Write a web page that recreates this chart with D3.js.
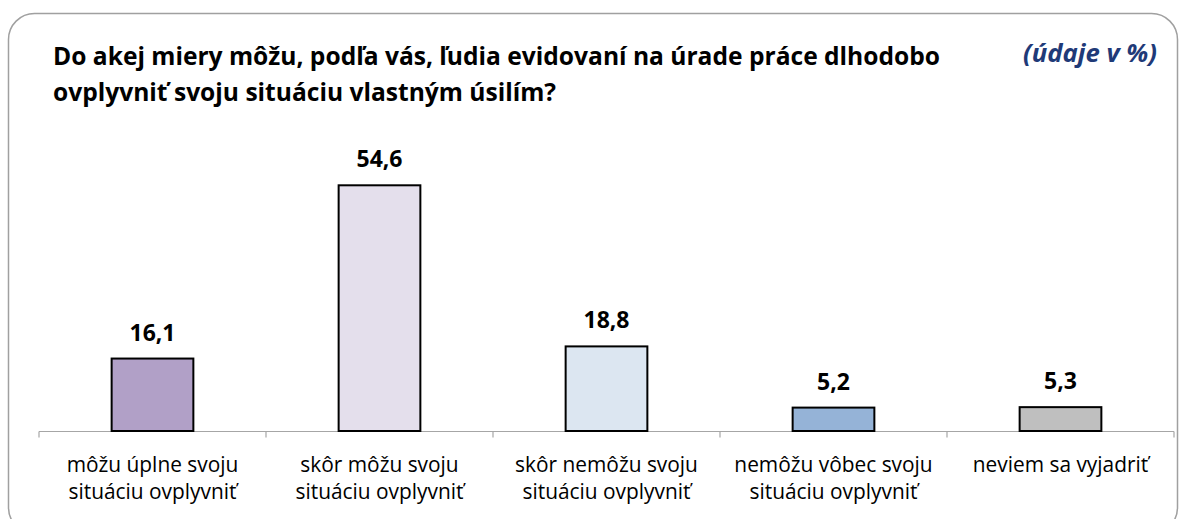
<!DOCTYPE html>
<html><head><meta charset="utf-8">
<script src="https://cdn.jsdelivr.net/npm/d3@7"></script>
<style>body{margin:0;background:#fff}</style>
</head><body>
<script>
const categories = [
  ["môžu úplne svoju", "situáciu ovplyvniť"],
  ["skôr môžu svoju", "situáciu ovplyvniť"],
  ["skôr nemôžu svoju", "situáciu ovplyvniť"],
  ["nemôžu vôbec svoju", "situáciu ovplyvniť"],
  ["neviem sa vyjadriť"]
];
const values = [16.1, 54.6, 18.8, 5.2, 5.3];
const colors = ["#b1a0c7", "#e4dfec", "#dce6f1", "#95b3d7", "#bfbfbf"];
const titleLines = ["Do akej miery môžu, podľa vás, ľudia evidovaní na úrade práce dlhodobo", "ovplyvniť svoju situáciu vlastným úsilím?"];
const unitNote = "(údaje v %)";

const W = 1186, H = 519;
const svg = d3.select("body").append("svg").attr("width", W).attr("height", H);
const font = "'Open Sans', 'Noto Sans', sans-serif";

// fit font size of a text so it spans a target width
function fit(sel, target) {
  const s = +sel.attr("font-size");
  const w = sel.node().getComputedTextLength();
  sel.attr("font-size", (s * target / w).toFixed(2));
}

svg.append("rect").attr("x", 8.5).attr("y", 13.5).attr("width", 1169).attr("height", 520)
  .attr("rx", 26).attr("fill", "#fff").attr("stroke", "#a0a0a0").attr("stroke-width", 1.5);

const t1 = svg.append("text").attr("x", 53).attr("y", 65).attr("font-family", font).attr("font-weight", "bold")
  .attr("font-size", 24).text(titleLines[0]);
fit(t1, 887);
svg.append("text").attr("x", 53).attr("y", 101).attr("font-family", font).attr("font-weight", "bold")
  .attr("font-size", t1.attr("font-size")).text(titleLines[1]);

const un = svg.append("text").attr("x", 1157).attr("y", 62).attr("text-anchor", "end")
  .attr("font-family", font).attr("font-weight", "bold").attr("font-style", "italic")
  .attr("font-size", 22).attr("fill", "#1f3a78").text(unitNote);
fit(un, 134);

const x = d3.scaleBand().domain(d3.range(values.length)).range([39, 1174]).paddingInner(0.64).paddingOuter(0.32);
const y = d3.scaleLinear().domain([0, 60]).range([431, 431 - 60 * 4.5]);

const axisY = 431.5;
svg.append("line").attr("x1", 39).attr("x2", 1174).attr("y1", axisY).attr("y2", axisY).attr("stroke", "#a6a6a6").attr("stroke-width", 1.2);
const step = (1174 - 39) / values.length;
d3.range(values.length + 1).forEach(i => {
  svg.append("line").attr("x1", 39 + i * step).attr("x2", 39 + i * step).attr("y1", axisY).attr("y2", axisY + 6)
    .attr("stroke", "#a6a6a6").attr("stroke-width", 1.2);
});

svg.selectAll("rect.bar").data(values).join("rect").attr("class", "bar")
  .attr("x", (d, i) => x(i)).attr("width", x.bandwidth())
  .attr("y", d => y(d)).attr("height", d => y(0) - y(d))
  .attr("fill", (d, i) => colors[i]).attr("stroke", "#000").attr("stroke-width", 2);

const vals = svg.selectAll("text.val").data(values).join("text").attr("class", "val")
  .attr("x", (d, i) => x(i) + x.bandwidth() / 2).attr("y", d => y(d) - 18)
  .attr("text-anchor", "middle").attr("font-family", font).attr("font-weight", "bold").attr("font-size", 22)
  .text(d => d.toFixed(1).replace(".", ","));
fit(d3.select(vals.nodes()[1]), 46);
vals.attr("font-size", d3.select(vals.nodes()[1]).attr("font-size"));

let catSize = 18;
categories.forEach((lines, i) => {
  const t = svg.append("text").attr("text-anchor", "middle").attr("font-family", font).attr("font-size", 18).attr("fill", "#000");
  lines.forEach((l, j) => t.append("tspan").attr("x", x(i) + x.bandwidth() / 2).attr("y", 472 + j * 26.5).text(l));
  if (i === 0) {
    const probe = svg.append("text").attr("font-family", font).attr("font-size", 18).text(lines[1]);
    catSize = 18 * 168 / probe.node().getComputedTextLength();
    probe.remove();
  }
  t.attr("font-size", catSize.toFixed(2));
});
</script>
</body></html>
